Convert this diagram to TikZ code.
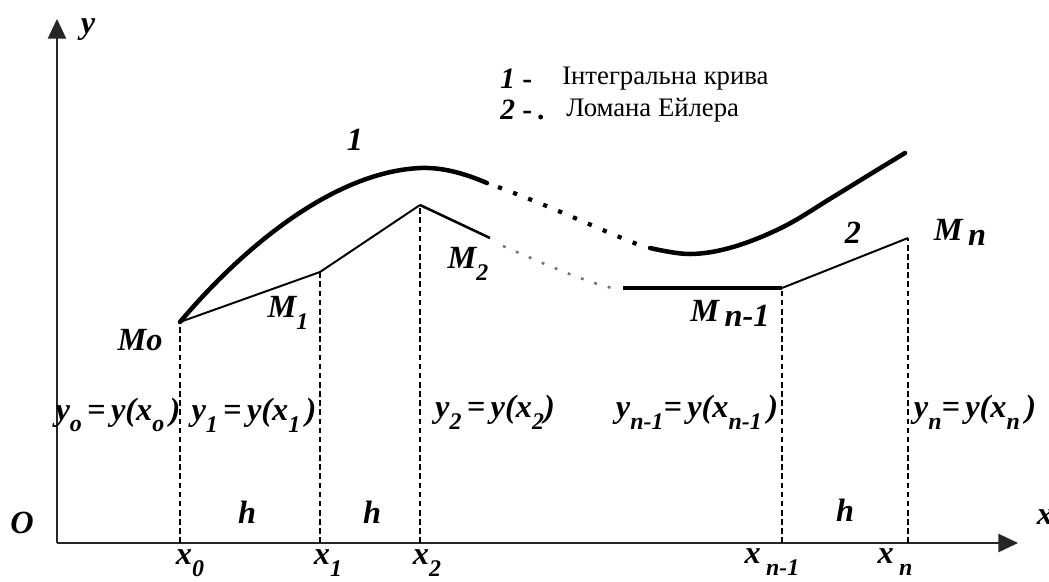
\documentclass[tikz,border=0pt]{standalone}
\usepackage{fontspec}
\setmainfont{Liberation Serif}
\usetikzlibrary{arrows.meta}

\newcommand{\lo}[1]{\raisebox{-0.36em}{\fontsize{17}{17}\selectfont #1}}
\newcommand{\lw}[1]{\raisebox{-0.15em}{#1}}

\begin{document}
\begin{tikzpicture}[x=0.025cm, y=-0.025cm,
    every node/.style = {inner sep=0pt, font=\fontsize{23}{26}\selectfont\bfseries\itshape},
    axisln/.style     = {draw=black!85, line width=1.3pt,
                         -{Triangle[length=14pt, width=13pt]}},
    curveln/.style    = {line width=3.2pt, line cap=round},
    curvedot/.style   = {line width=3pt, dash pattern=on 3pt off 8.5pt},
    eulerln/.style    = {line width=1.4pt},
    eulerdot/.style   = {line width=1.8pt, draw=black!55, dash pattern=on 2pt off 8pt},
    eulerbold/.style  = {line width=2.8pt},
    dropln/.style     = {line width=0.8pt, dash pattern=on 4pt off 2.5pt},
    legnum/.style     = {anchor=west, font=\fontsize{21}{24}\selectfont\bfseries\itshape},
    legtext/.style    = {anchor=west, font=\fontsize{19}{22}\selectfont}]

    \useasboundingbox (0,0) rectangle (1049,581);

    % Axes
    \coordinate (O)    at (57,543);
    \coordinate (ytop) at (57,19);
    \coordinate (xtip) at (1018,543);
    \draw[axisln] (O) -- (ytop);
    \draw[axisln] (O) -- (xtip);

    % Grid points on the x axis and Euler points
    \coordinate (X0) at (180,543);  \coordinate (M0) at (180,322);
    \coordinate (X1) at (320,543);  \coordinate (M1) at (320,272);
    \coordinate (X2) at (420,543);  \coordinate (M2) at (420,205);
    \coordinate (Xk) at (782,543);  \coordinate (Mk) at (782,288);
    \coordinate (Xn) at (908,543);  \coordinate (Mn) at (908,238);
    \coordinate (E2) at (490,238);
    \coordinate (D1) at (503,246);  \coordinate (D2) at (612,288);
    \coordinate (Ek) at (623,288);
    \coordinate (C1) at (420,168);  \coordinate (C2) at (487,183);
    \coordinate (C3) at (650,248);  \coordinate (C4) at (905,153);

    % Drop lines
    \draw[dropln] (X0) -- (M0);
    \draw[dropln] (X1) -- (M1);
    \draw[dropln] (X2) -- (M2);
    \draw[dropln] (Xk) -- (Mk);
    \draw[dropln] (Xn) -- (Mn);

    % Integral curve
    \draw[curveln] (M0) .. controls (245,245) and (335,172) .. (C1)
                        .. controls (445,167) and (468,175) .. (C2);
    \draw[curvedot] (498,187) .. controls (560,210) and (600,230) .. (642,246);
    \draw[curveln] plot[smooth, tension=0.6] coordinates {(C3) (690,254)
        (733,247) (783,227) (833,197) (877,170) (C4)};

    % Euler polyline
    \draw[eulerln] (M0) -- (M1) -- (M2);
    \draw[line width=1.8pt] (M2) -- (E2);
    \draw[eulerdot] (D1) .. controls (545,264) and (580,280) .. (D2);
    \draw[eulerbold] (Ek) -- (Mk);
    \draw[eulerln] (Mk) -- (Mn);

    % Axis labels
    \node (ylab) at (88,30)    {y};
    \node (olab) at (22,523)   {O};
    \node (xlab) at (1045,517) {x};

    % Point labels
    \node (m0lab) at (140,340) {Mo};
    \node (m1lab) at (288,313) {M\lo{1}};
    \node (m2lab) at (468,264) {M\lo{2}};
    \node (mklab) at (730,313) {M\,\lw{n-1}};
    \node (mnlab) at (960,232) {M\,\lw{n}};
    \node (c1lab) at (355,140) {1};
    \node (c2lab) at (853,233) {2};

    % Values
    \node (v0) at (118,415) {y\lo{o}\,=\,y(x\lo{o}\,)};
    \node (v1) at (254,415) {y\lo{1}\,=\,y(x\lo{1}\,)};
    \node (v2) at (495,412) {y\lo{2}\,=\,y(x\lo{2})};
    \node (vk) at (697,412) {y\lo{n-1}=\,y(x\lo{n-1}\,)};
    \node (vn) at (975,412) {y\lo{n}=\,y(x\lo{n}\,)};

    % Steps
    \node (h1) at (247,512) {h};
    \node (h2) at (372,512) {h};
    \node (h3) at (845,510) {h};

    % Grid labels
    \node (x0lab) at (190,563) {x\lo{0}};
    \node (x1lab) at (328,563) {x\lo{1}};
    \node (x2lab) at (427,563) {x\lo{2}};
    \node (xklab) at (772,562) {x\,\lo{n-1}};
    \node (xnlab) at (895,562) {x\,\lo{n}};

    % Legend
    \node[legnum]  (leg1)  at (500,79)  {1 \upshape-};
    \node[legtext] (leg1t) at (562,79)  {Інтегральна крива};
    \node[legnum]  (leg2)  at (500,110) {2 \upshape-\,.};
    \node[legtext] (leg2t) at (566,110) {Ломана Ейлера};
  \end{tikzpicture}
\end{document}
